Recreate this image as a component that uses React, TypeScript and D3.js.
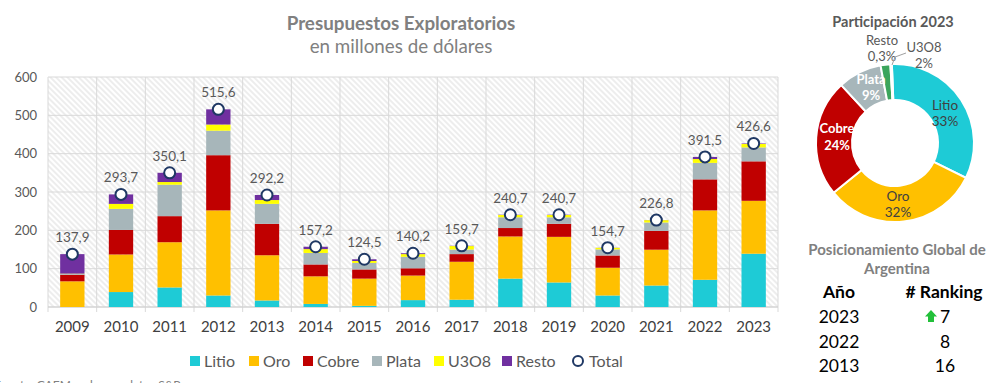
import React from "react";
import * as d3 from "d3";

const years = ["2009","2010","2011","2012","2013","2014","2015","2016","2017","2018","2019","2020","2021","2022","2023"];
const litio = [0, 39, 51, 30, 17, 8, 3, 18, 19, 74, 64, 30, 56, 71, 139];
const oro = [67, 98, 118, 222, 118, 72, 71, 64, 99, 110, 119, 72.4, 93.5, 181, 138];
const cobre = [17, 64, 68, 144, 82, 31, 24, 19, 20, 22, 34, 32, 49, 81, 103];
const plata = [2, 55, 82, 64, 52, 30, 17, 30, 12, 28, 17, 16, 22, 43, 36.3];
const u3o8 = [1, 13, 7, 16, 10, 10, 5, 7, 9, 6, 6, 4, 6, 10, 9];
const resto = [50.9, 24.7, 24.1, 39.6, 13.2, 6.2, 4.5, 2.2, 0.7, 0.7, 0.7, 0.3, 0.3, 5.5, 1.3];
const totals = [137.9, 293.7, 350.1, 515.6, 292.2, 157.2, 124.5, 140.2, 159.7, 240.7, 240.7, 154.7, 226.8, 391.5, 426.6];
const yTicks = [0, 100, 200, 300, 400, 500, 600];

const seriesNames = ["Litio", "Oro", "Cobre", "Plata", "U3O8", "Resto"];
const seriesColors = ["#1ECBD6", "#FFC000", "#C00000", "#A7B6BA", "#FFFF00", "#7030A0"];

const pieNames = ["Litio", "Oro", "Cobre", "Plata", "U3O8", "Resto"];
const pieShares = [33, 32, 24, 9, 2, 0.3];
const pieLabels = ["33%", "32%", "24%", "9%", "2%", "0,3%"];
const pieColors = ["#1ECBD6", "#FFC000", "#C00000", "#A7B6BA", "#3BA55C", "#7030A0"];

const rankYears = ["2023", "2022", "2013"];
const rankValues = ["7", "8", "16"];

const FONT = "Lato, 'Open Sans', sans-serif";

export default function App() {
  const W = 1000, H = 383;
  const left = 48, right = 778, top = 77, bottom = 307;
  const x = d3.scaleBand<string>().domain(years).range([left, right]).paddingInner(0.5).paddingOuter(0.25);
  const xOuter = d3.scaleBand<string>().domain(years).range([left, right]);
  const y = d3.scaleLinear().domain([0, 600]).range([bottom, top]);

  const rows = years.map((yr, i) => ({
    year: yr,
    Litio: litio[i], Oro: oro[i], Cobre: cobre[i], Plata: plata[i], U3O8: u3o8[i], Resto: resto[i],
  }));
  const stacked = d3.stack<any>().keys(seriesNames)(rows);

  // pie
  const cx = 895, cy = 143;
  const pie = d3.pie<number>().sort(null).startAngle(-0.04).endAngle(2 * Math.PI - 0.04)(pieShares);
  const arc = d3.arc<any>().innerRadius(43).outerRadius(79);

  const legendItems = [
    { name: "Litio", x: 190 }, { name: "Oro", x: 249 }, { name: "Cobre", x: 303 },
    { name: "Plata", x: 372 }, { name: "U3O8", x: 434 }, { name: "Resto", x: 502 },
  ];

  return (
    <svg width={W} height={H} style={{ position: "absolute", left: 0, top: 0, background: "#fff" }} fontFamily={FONT}>
      <defs>
        <pattern id="hatch" patternUnits="userSpaceOnUse" width="4" height="4" patternTransform="rotate(-45)">
          <rect width="4" height="4" fill="#ffffff" />
          <line x1="1" y1="0" x2="1" y2="4" stroke="#e2e2e2" strokeWidth="1.2" />
        </pattern>
      </defs>

      {/* titles */}
      <text x={401} y={30} textAnchor="middle" fontSize={18.8} fontWeight="bold" fill="#808080">Presupuestos Exploratorios</text>
      <text x={401} y={53} textAnchor="middle" fontSize={18.8} fill="#808080">en millones de dólares</text>

      {/* plot background */}
      <rect x={left} y={top} width={right - left} height={bottom - top} fill="url(#hatch)" />
      {yTicks.map((t) => (
        <line key={"h" + t} x1={left} x2={right} y1={y(t)} y2={y(t)} stroke="#d9d9d9" strokeWidth={1} />
      ))}
      {years.map((yr) => (
        <line key={"v" + yr} x1={xOuter(yr)!} x2={xOuter(yr)!} y1={top} y2={bottom + 5} stroke="#d9d9d9" strokeWidth={1} />
      ))}
      <line x1={right} x2={right} y1={top} y2={bottom + 5} stroke="#d9d9d9" strokeWidth={1} />
      <line x1={left} x2={right} y1={bottom} y2={bottom} stroke="#d0d0d0" strokeWidth={1} />

      {yTicks.map((t) => (
        <text key={"yt" + t} x={37} y={y(t) + 4.5} textAnchor="end" fontSize={13} fill="#595959">{t}</text>
      ))}
      {years.map((yr) => (
        <text key={"xt" + yr} x={x(yr)! + x.bandwidth() / 2} y={332} textAnchor="middle" fontSize={15} fill="#404040">{yr}</text>
      ))}

      {/* bars */}
      {stacked.map((s, si) => (
        <g key={s.key} fill={seriesColors[si]}>
          {s.map((d, i) => {
            const h = y(d[0]) - y(d[1]);
            if (h <= 0) return null;
            return <rect key={i} x={x(years[i])!} y={y(d[1])} width={x.bandwidth()} height={h} />;
          })}
        </g>
      ))}

      {/* totals */}
      {years.map((yr, i) => {
        const px = x(yr)! + x.bandwidth() / 2;
        const py = y(totals[i]);
        return (
          <g key={"tot" + yr}>
            <circle cx={px} cy={py} r={5.5} fill="#fff" stroke="#1F3864" strokeWidth={2} />
            <text x={px} y={py - 12} textAnchor="middle" fontSize={13.5} fill="#595959">{totals[i].toFixed(1).replace(".", ",")}</text>
          </g>
        );
      })}

      {/* legend */}
      {legendItems.map((it, i) => (
        <g key={it.name}>
          <rect x={it.x} y={356} width={10} height={10} fill={seriesColors[i]} />
          <text x={it.x + 14} y={366.5} fontSize={16} fill="#595959">{it.name}</text>
        </g>
      ))}
      <circle cx={578} cy={361} r={5} fill="#fff" stroke="#1F3864" strokeWidth={2} />
      <text x={589} y={366.5} fontSize={16} fill="#595959">Total</text>

      {/* source */}
      <text x={-6} y={389} fontSize={12} fill="#808080">Fuente: CAEM en base a datos S&amp;P</text>

      {/* donut */}
      <text x={893} y={27} textAnchor="middle" fontSize={14.5} fontWeight="bold" fill="#595959">Participación 2023</text>
      <g transform={`translate(${cx},${cy})`}>
        {pie.map((p, i) => (
          <path key={i} d={arc(p) as string} fill={pieColors[i]} stroke="#fff" strokeWidth={2} />
        ))}
      </g>
      <g fontSize={13.5} textAnchor="middle">
        <text x={945} y={110} fill="#404040">{pieNames[0]}</text>
        <text x={945} y={126} fill="#404040">{pieLabels[0]}</text>
        <text x={898} y={201} fill="#404040">{pieNames[1]}</text>
        <text x={898} y={217} fill="#404040">{pieLabels[1]}</text>
      </g>
      <g fontSize={13} textAnchor="middle" fill="#fff" fontWeight="bold">
        <text x={837} y={133}>{pieNames[2]}</text>
        <text x={837} y={150}>{pieLabels[2]}</text>
        <text x={871} y={84}>{pieNames[3]}</text>
        <text x={871} y={100}>{pieLabels[3]}</text>
      </g>
      <g fontSize={13} textAnchor="middle" fill="#595959">
        <text x={924} y={52}>{pieNames[4]}</text>
        <text x={924} y={68}>{pieLabels[4]}</text>
        <text x={882} y={45}>{pieNames[5]}</text>
        <text x={882} y={61}>{pieLabels[5]}</text>
      </g>
      <polyline points="895,57 906,53" fill="none" stroke="#a0a0a0" strokeWidth={1} />
      <line x1={895} y1={57} x2={892} y2={65} stroke="#a0a0a0" strokeWidth={1} />

      {/* ranking */}
      <text x={897} y={255} textAnchor="middle" fontSize={15} fontWeight="bold" fill="#808080">Posicionamiento Global de</text>
      <text x={897} y={274} textAnchor="middle" fontSize={15} fontWeight="bold" fill="#808080">Argentina</text>
      <text x={839} y={298} textAnchor="middle" fontSize={17.5} fontWeight="bold" fill="#000">Año</text>
      <text x={944} y={298} textAnchor="middle" fontSize={17.5} fontWeight="bold" fill="#000">{"# Ranking"}</text>
      {rankYears.map((ry, i) => (
        <g key={ry}>
          <text x={839} y={323 + i * 24.5} textAnchor="middle" fontSize={17.5} fill="#000">{ry}</text>
          <text x={945} y={323 + i * 24.5} textAnchor="middle" fontSize={17.5} fill="#000">{rankValues[i]}</text>
        </g>
      ))}
      <path d="M931,310 L937,316.5 L934,316.5 L934,322 L928,322 L928,316.5 L925,316.5 Z" fill="#22C03A" />
    </svg>
  );
}
